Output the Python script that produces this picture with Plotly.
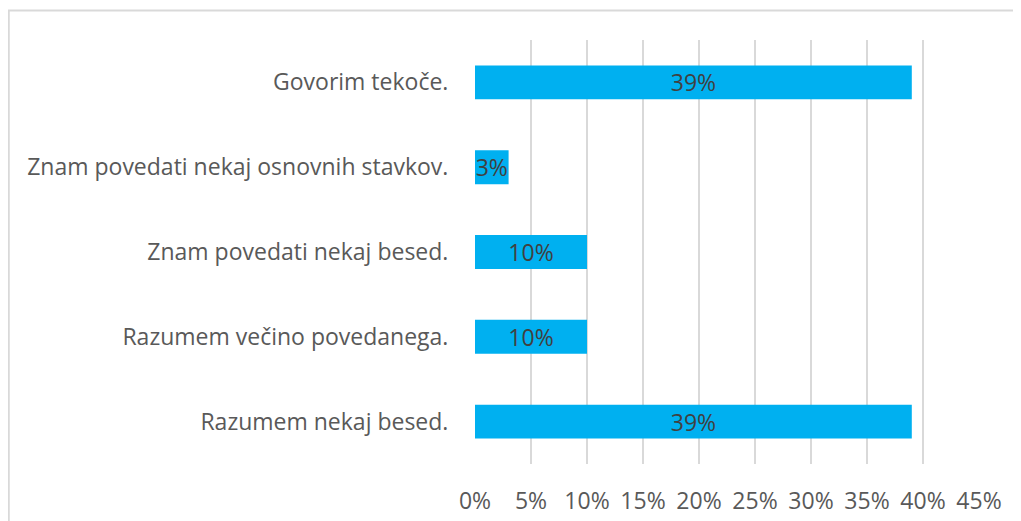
import plotly.graph_objects as go

categories = [
    "Razumem nekaj besed.",
    "Razumem večino povedanega.",
    "Znam povedati nekaj besed.",
    "Znam povedati nekaj osnovnih stavkov.",
    "Govorim tekoče.",
]
values = [39, 10, 10, 3, 39]
x_ticks = [0, 5, 10, 15, 20, 25, 30, 35, 40, 45]
x_tick_labels = [f"{t}%" for t in x_ticks]

FONT = "Open Sans, Noto Sans, sans-serif"
FS = 23

fig = go.Figure(go.Bar(
    y=categories,
    x=values,
    orientation="h",
    marker=dict(color="#00B0F0", line=dict(width=0)),
    text=[f"{v}%" for v in values],
    textposition="inside",
    insidetextanchor="middle",
    textangle=0,
    constraintext="none",
    textfont=dict(family=FONT, size=FS, color="#404040"),
    cliponaxis=False,
    hoverinfo="skip",
))

fig.update_layout(
    width=1013,
    height=513,
    margin=dict(l=467, r=42, t=32, b=57, autoexpand=False),
    paper_bgcolor="white",
    plot_bgcolor="white",
    bargap=0.6,
    showlegend=False,
    font=dict(family=FONT, size=FS, color="#595959"),
    xaxis=dict(
        range=[0, 45],
        tickvals=x_ticks,
        ticktext=x_tick_labels,
        showgrid=True,
        gridcolor="#D9D9D9",
        gridwidth=1.5,
        zeroline=False,
        showline=False,
        ticks="outside",
        ticklen=16,
        tickcolor="rgba(0,0,0,0)",
        tickfont=dict(family=FONT, size=FS, color="#595959"),
        automargin=False,
        fixedrange=True,
    ),
    yaxis=dict(
        categoryorder="array",
        categoryarray=categories,
        showgrid=False,
        zeroline=False,
        showline=False,
        ticks="outside",
        ticklen=21,
        tickcolor="rgba(0,0,0,0)",
        tickfont=dict(family=FONT, size=FS, color="#595959"),
        automargin=False,
        fixedrange=True,
    ),
    shapes=[dict(
        type="rect",
        xref="paper", yref="paper",
        x0=-0.9251, x1=1.3, y0=-0.3, y1=1.0696,
        line=dict(color="#D9D9D9", width=2),
        fillcolor="rgba(0,0,0,0)",
        layer="below",
    )],
)

fig.write_html("out.html")
